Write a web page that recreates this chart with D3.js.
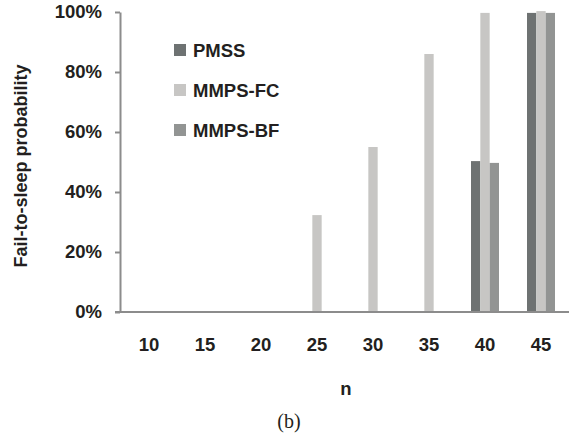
<!DOCTYPE html>
<html>
<head>
<meta charset="utf-8">
<script src="https://cdn.jsdelivr.net/npm/d3@7"></script>
<style>
  body { margin: 0; background: #fff; }
  svg text { font-family: "Liberation Sans", Arial, sans-serif; font-weight: bold; fill: #231f20; }
</style>
</head>
<body>
<script>
// data (percent)
var nValues = ["10", "15", "20", "25", "30", "35", "40", "45"];
var seriesNames = ["PMSS", "MMPS-FC", "MMPS-BF"];
var pmss   = [0, 0, 0, 0, 0, 0, 50.3, 99.7];
var mmpsFC = [0, 0, 0, 32.3, 55, 86, 99.7, 100.3];
var mmpsBF = [0, 0, 0, 0, 0, 0, 49.7, 99.7];
var yTicks = [0, 20, 40, 60, 80, 100];
var seriesColors = ["#6e7272", "#c7c6c4", "#929493"];

var width = 579, height = 435;
var margin = {left: 120, right: 10, top: 12, bottom: 123};

var svg = d3.select("body").append("svg")
    .attr("width", width)
    .attr("height", height);

var allSeries = [pmss, mmpsFC, mmpsBF];

var x0 = d3.scaleBand()//groups
    .domain(nValues)
    .range([margin.left + 1, width - margin.right])
    .paddingInner(0.5)
    .paddingOuter(0.25);
var x1 = d3.scaleBand()//bars inside a group
    .domain(seriesNames)
    .range([0, x0.bandwidth()]);
var y = d3.scaleLinear()
    .domain([0, 100])
    .range([height - margin.bottom, margin.top]);

// bars
seriesNames.forEach(function (s, i) {
    var rows = allSeries[i].map(function (v, j) { return {n: nValues[j], v: v}; })
        .filter(function (d) { return d.v > 0; });//nothing drawn for 0%
    svg.append("g")
        .selectAll("rect")
        .data(rows)
        .enter().append("rect")
        .attr("x", function (d) { return x0(d.n) + x1(s); })
        .attr("y", function (d) { return y(d.v); })
        .attr("width", x1.bandwidth())
        .attr("height", function (d) { return y(0) - y(d.v); })
        .attr("fill", seriesColors[i]);
});

// y axis
var yAxis = d3.axisLeft(y)
    .tickValues(yTicks)
    .tickSize(5)
    .tickSizeOuter(0)
    .tickPadding(13)
    .tickFormat(function (d) { return d + "%"; });
var gy = svg.append("g")
    .attr("transform", "translate(" + margin.left + ",0)")
    .call(yAxis);
gy.select(".domain").attr("stroke", "#8c8c8c").attr("stroke-width", 2);
gy.selectAll(".tick line").attr("stroke", "#8c8c8c").attr("stroke-width", 2);
gy.selectAll("text").style("font-size", "18.5px");

// x axis
var xAxis = d3.axisBottom(x0)
    .tickSize(0)
    .tickPadding(26);
var gx = svg.append("g")
    .attr("transform", "translate(0," + y(0) + ")")
    .call(xAxis);
gx.select(".domain").remove();
gx.selectAll("text").style("font-size", "18.5px");
gx.append("line")
    .attr("x1", margin.left - 5)
    .attr("x2", width - margin.right)
    .attr("stroke", "#8c8c8c")
    .attr("stroke-width", 2);

// axis titles
svg.append("text")
    .attr("x", (x0.range()[0] + x0.range()[1]) / 2 + 1)
    .attr("y", 395)
    .attr("text-anchor", "middle")
    .style("font-size", "18.5px")
    .text("n");
svg.append("text")
    .attr("transform", "translate(27," + 166 + ") rotate(-90)")
    .attr("text-anchor", "middle")
    .style("font-size", "18px")
    .text("Fail-to-sleep probability");

// caption
svg.append("text")
    .attr("x", 289)
    .attr("y", 428)
    .attr("text-anchor", "middle")
    .style("font-family", "'Liberation Serif', 'Times New Roman', serif")
    .style("font-weight", "normal")
    .style("font-size", "20px")
    .text("(b)");

// legend
var legend = svg.append("g").attr("transform", "translate(174,50)");
seriesNames.forEach(function (s, i) {
    var row = legend.append("g").attr("transform", "translate(0," + (i * 40) + ")");
    row.append("rect")
        .attr("x", 0).attr("y", -6)
        .attr("width", 12).attr("height", 12)
        .attr("fill", seriesColors[i]);
    row.append("text")
        .attr("x", 19).attr("y", 7)
        .style("font-size", "18.5px")
        .text(s);
});
</script>
</body>
</html>
